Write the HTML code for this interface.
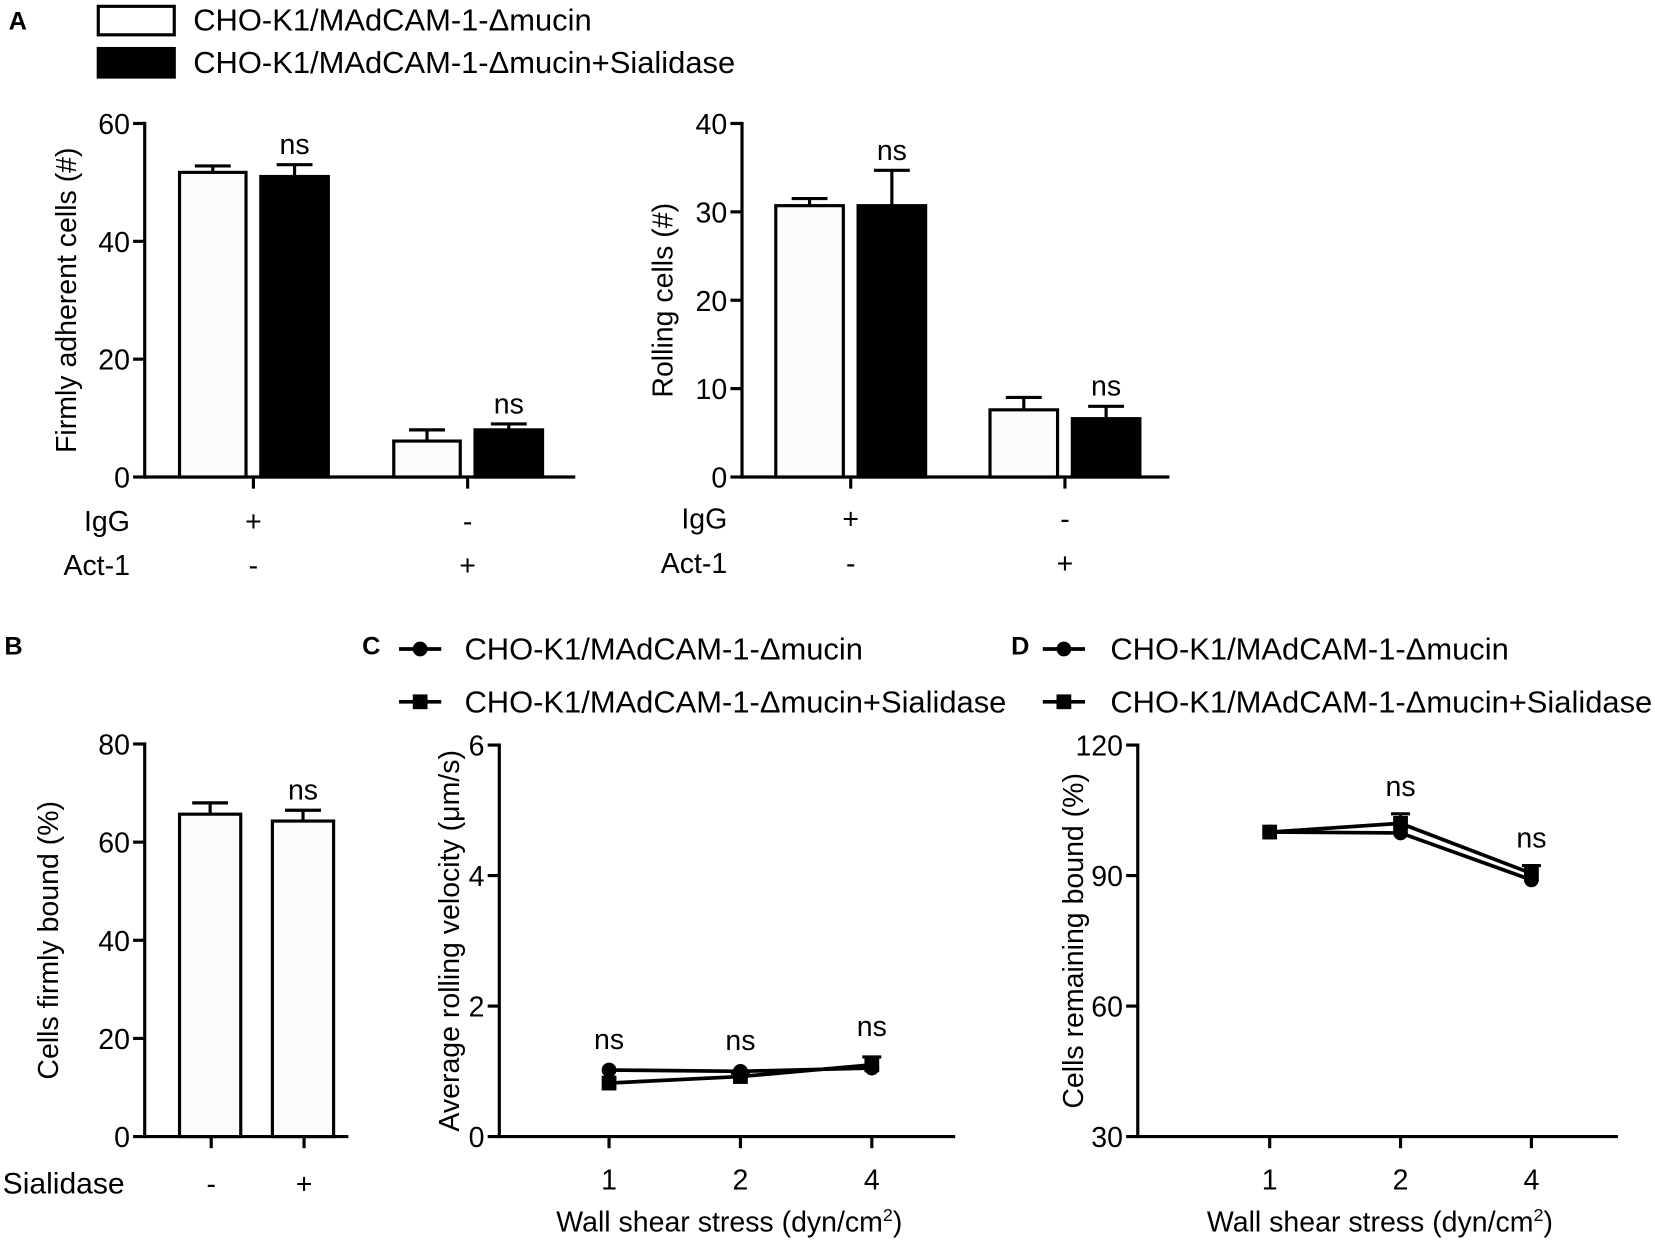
<!DOCTYPE html>
<html><head><meta charset="utf-8"><style>
html,body{margin:0;padding:0;background:#fff;}
svg{display:block;font-family:"Liberation Sans",Arial,sans-serif;}
</style></head><body>
<svg id="fig" width="1655" height="1240" viewBox="0 0 1568 1175" xmlns="http://www.w3.org/2000/svg">
<g>
<text x="8" y="28" font-size="24" font-weight="bold">A</text>
<rect x="93" y="6" width="72" height="27" fill="#fff" stroke="#000" stroke-width="3"/>
<text x="183" y="29" font-size="29.3">CHO-K1/MAdCAM-1-Δmucin</text>
<rect x="93" y="46" width="72" height="27" fill="#000" stroke="#000" stroke-width="3"/>
<text x="183" y="69" font-size="29.3">CHO-K1/MAdCAM-1-Δmucin+Sialidase</text>
</g>
<text x="4" y="620" font-size="24" font-weight="bold">B</text>
<text x="343" y="620" font-size="24" font-weight="bold">C</text>
<text x="958" y="620" font-size="24" font-weight="bold">D</text>
<g id="legC"></g>
<g id="legD"></g>
</svg>
<script>
// ---- data ----
const aLeftGroups = ["IgG+/Act-1-", "IgG-/Act-1+"];
const aLeftWhite = [51.7, 6.1];
const aLeftWhiteErr = [1.1, 1.9];
const aLeftBlack = [51.0, 8.0];
const aLeftBlackErr = [2.0, 1.0];
const aLeftTicks = [0, 20, 40, 60];
const aRightWhite = [30.7, 7.6];
const aRightWhiteErr = [0.8, 1.4];
const aRightBlack = [30.7, 6.6];
const aRightBlackErr = [4.0, 1.4];
const aRightTicks = [0, 10, 20, 30, 40];
const bCategories = ["-", "+"];
const bValues = [65.7, 64.3];
const bErr = [2.3, 2.2];
const bTicks = [0, 20, 40, 60, 80];
const shearCategories = ["1", "2", "4"];
const cMucin = [1.02, 1.0, 1.05];
const cSialidase = [0.82, 0.92, 1.1];
const cSialidaseErr = [0.0, 0.05, 0.12];
const cTicks = [0, 2, 4, 6];
const dMucin = [100, 99.8, 89];
const dSialidase = [100, 102, 90.5];
const dSialidaseErr = [0, 2.2, 1.8];
const dTicks = [30, 60, 90, 120];

const FS = 27;
const NS = "http://www.w3.org/2000/svg";
const svg = document.getElementById("fig");
function mk(tag, attrs, parent) {
  const e = document.createElementNS(NS, tag);
  for (const k in attrs) e.setAttribute(k, attrs[k]);
  (parent || svg).appendChild(e);
  return e;
}
function txt(x, y, s, size, anchor, parent, name) {
  const t = mk("text", {x: x, y: y, "font-size": size, "text-anchor": anchor || "middle"}, parent);
  t.textContent = s;
  
  
  return t;
}
function yAxis(g, x, y0, y1, vmin, vmax, ticks, label, labelX) {
  const sc = v => y0 - (v - vmin) / (vmax - vmin) * (y0 - y1);
  const ax = mk("line", {x1: x, y1: y0 + 1.5, x2: x, y2: y1 - 1.5, stroke: "#000", "stroke-width": 3}, g);
  
  
  ticks.forEach(t => {
    const tl = mk("line", {x1: x - 11, y1: sc(t), x2: x, y2: sc(t), stroke: "#000", "stroke-width": 3}, g);
    
    
    txt(x - 14, sc(t) + 10, String(t), FS, "end", g, "y-tick-label");
  });
  const cy = (y0 + y1) / 2;
  const t = txt(labelX, cy, label, FS, "middle", g, "y-axis-title");
  t.setAttribute("transform", "rotate(-90 " + labelX + " " + cy + ")");
  return sc;
}
function xAxis(g, x0, x1, y, tickXs) {
  const ax = mk("line", {x1: x0, y1: y, x2: x1, y2: y, stroke: "#000", "stroke-width": 3}, g);
  
  
  tickXs.forEach(tx => {
    const tl = mk("line", {x1: tx, y1: y, x2: tx, y2: y + 11, stroke: "#000", "stroke-width": 3}, g);
    
    
  });
}
function bar(g, x, w, v, err, sc, fill, name, ns) {
  const y = sc(v), y0 = sc(0);
  const top = sc(v + err);
  const el = mk("line", {x1: x + w / 2, y1: y, x2: x + w / 2, y2: top, stroke: "#000", "stroke-width": 3}, g);
  
  
  const cap = mk("line", {x1: x + w / 2 - 17, y1: top, x2: x + w / 2 + 17, y2: top, stroke: "#000", "stroke-width": 3}, g);
  
  
  const r = mk("rect", {x: x, y: y, width: w, height: y0 - y, fill: fill, stroke: "#000", "stroke-width": 3}, g);
  
  
  if (ns) txt(x + w / 2, top - 10, "ns", FS, "middle", g, "ns-label");
}

// ---- Panel A left ----
(function () {
  const g = mk("g", {});
  
  
  const sc = yAxis(g, 137, 452, 117, 0, 60, aLeftTicks, "Firmly adherent cells (#)", 72);
  const groupX = [240, 443];
  xAxis(g, 137, 545, 452, groupX);
  groupX.forEach((gx, i) => {
    bar(g, gx - 70, 63, aLeftWhite[i], aLeftWhiteErr[i], sc, "#fcfcfc", "bar-mucin-" + (i + 1), false);
    bar(g, gx + 7, 64, aLeftBlack[i], aLeftBlackErr[i], sc, "#000", "bar-sialidase-" + (i + 1), true);
  });
  txt(123, 503, "IgG", FS, "end", g, "row-label-igg");
  txt(123, 545, "Act-1", FS, "end", g, "row-label-act1");
  ["+", "-"].forEach((s, i) => txt(groupX[i], 503, s, FS, "middle", g, "igg-sign"));
  ["-", "+"].forEach((s, i) => txt(groupX[i], 545, s, FS, "middle", g, "act1-sign"));
})();

// ---- Panel A right ----
(function () {
  const g = mk("g", {});
  
  
  const sc = yAxis(g, 703, 452, 117, 0, 40, aRightTicks, "Rolling cells (#)", 637);
  const groupX = [806, 1009];
  xAxis(g, 703, 1108, 452, groupX);
  groupX.forEach((gx, i) => {
    bar(g, gx - 71, 64, aRightWhite[i], aRightWhiteErr[i], sc, "#fcfcfc", "bar-mucin-" + (i + 1), false);
    bar(g, gx + 7, 64, aRightBlack[i], aRightBlackErr[i], sc, "#000", "bar-sialidase-" + (i + 1), true);
  });
  txt(689, 501, "IgG", FS, "end", g, "row-label-igg");
  txt(689, 543, "Act-1", FS, "end", g, "row-label-act1");
  ["+", "-"].forEach((s, i) => txt(groupX[i], 501, s, FS, "middle", g, "igg-sign"));
  ["-", "+"].forEach((s, i) => txt(groupX[i], 543, s, FS, "middle", g, "act1-sign"));
})();

// ---- Panel B ----
(function () {
  const g = mk("g", {});
  
  
  const sc = yAxis(g, 137, 1077, 705, 0, 80, bTicks, "Cells firmly bound (%)", 55);
  const xs = [200, 288];
  xAxis(g, 137, 330, 1077, xs);
  xs.forEach((x, i) => bar(g, x - 30, 58, bValues[i], bErr[i], sc, "#fcfcfc", "bar-sialidase-" + bCategories[i], i === 1));
  txt(118, 1131, "Sialidase", 28.5, "end", g, "row-label-sialidase");
  bCategories.forEach((s, i) => txt(xs[i], 1131, s, FS, "middle", g, "sialidase-sign"));
})();

// ---- Line charts ----
function lineChart(name, axX, axEnd, firstOff, step, vmin, vmax, ticks, ylabel, ylabelX, s1, s2, e2, nsIdx, nsOffset) {
  const g = mk("g", {});
  
  
  const sc = yAxis(g, axX, 1077, 706, vmin, vmax, ticks, ylabel, ylabelX);
  const xs = shearCategories.map((c, i) => axX + firstOff + i * step);
  xAxis(g, axX, axEnd, 1077, xs);
  shearCategories.forEach((c, i) => txt(xs[i], 1127, c, FS, "middle", g, "x-tick-label"));
  const xt = txt((axX + axEnd) / 2 + 2, 1167, "Wall shear stress (dyn/cm", FS, "middle", g, "x-axis-title");
  const sup = document.createElementNS(NS, "tspan");
  sup.setAttribute("dy", "-10"); sup.setAttribute("font-size", "17"); sup.textContent = "2";
  xt.appendChild(sup);
  const cl = document.createElementNS(NS, "tspan");
  cl.setAttribute("dy", "10"); cl.textContent = ")";
  xt.appendChild(cl);
  xs.forEach((x, i) => {
    if (e2[i] > 0) {
      const t = sc(s2[i] + e2[i]);
      const l = mk("line", {x1: x, y1: sc(s2[i]), x2: x, y2: t, stroke: "#000", "stroke-width": 3}, g);
      
      
      const cp = mk("line", {x1: x - 9, y1: t, x2: x + 9, y2: t, stroke: "#000", "stroke-width": 3}, g);
      
      
    }
  });
  [s1, s2].forEach((s, k) => {
    const pl = mk("polyline", {points: xs.map((x, i) => x + "," + sc(s[i])).join(" "), fill: "none", stroke: "#000", "stroke-width": 3.5}, g);
    
    
    xs.forEach((x, i) => {
      let m;
      if (k === 0) m = mk("circle", {cx: x, cy: sc(s[i]), r: 7, fill: "#000"}, g);
      else m = mk("rect", {x: x - 7, y: sc(s[i]) - 7, width: 14, height: 14, fill: "#000"}, g);
      
      
    });
  });
  nsIdx.forEach(i => {
    const top = Math.min(sc(s1[i]), sc(s2[i] + e2[i]));
    txt(xs[i], top - nsOffset, "ns", FS, "middle", g, "ns-label");
  });
}
lineChart("chart-c-rolling-velocity", 473, 905, 104, 124.5, 0, 6, cTicks, "Average rolling velocity (μm/s)", 435, cMucin, cSialidase, cSialidaseErr, [0, 1, 2], 20);
lineChart("chart-d-remaining-bound", 1078, 1533, 125, 124, 30, 120, dTicks, "Cells remaining bound (%)", 1026, dMucin, dSialidase, dSialidaseErr, [1, 2], 17);

function legend(id, lx, tx) {
  const g = document.getElementById(id);
  [[615, "CHO-K1/MAdCAM-1-Δmucin", 0], [665, "CHO-K1/MAdCAM-1-Δmucin+Sialidase", 1]].forEach(([y, s, k]) => {
    const l = mk("line", {x1: lx, y1: y, x2: lx + 40, y2: y, stroke: "#000", "stroke-width": 3.5}, g);
    
    
    const m = k === 0 ? mk("circle", {cx: lx + 20, cy: y, r: 7, fill: "#000"}, g) : mk("rect", {x: lx + 13, y: y - 7, width: 14, height: 14, fill: "#000"}, g);
    
    
    txt(tx, y + 10, s, 29.3, "start", g, "legend-entry");
  });
}
legend("legC", 378, 440);
legend("legD", 988, 1052);
</script>
</body></html>
